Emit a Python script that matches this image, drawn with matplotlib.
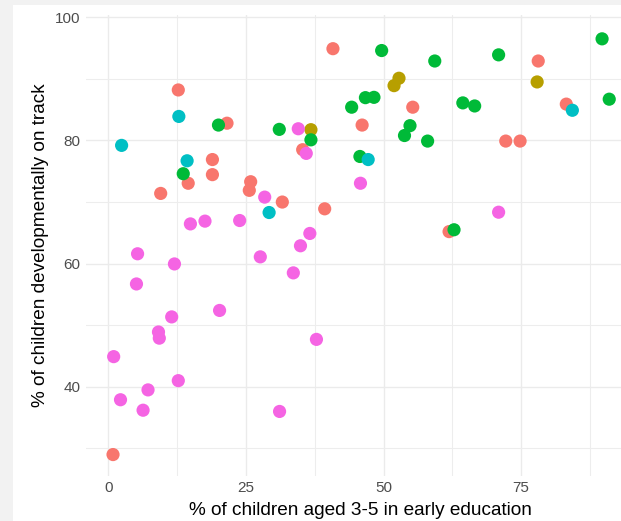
import matplotlib.pyplot as plt
from matplotlib.patches import Rectangle
from matplotlib.ticker import MultipleLocator

plt.rcParams['font.family'] = ['Liberation Sans', 'DejaVu Sans']

# values, one list pair per group
red_x = [40.8, 12.7, 21.55, 35.3, 18.9, 18.9, 14.5, 9.5, 25.85, 25.6, 31.6, 39.3,
         78.1, 55.3, 83.2, 46.1, 72.2, 74.8, 61.9, 0.84]
red_y = [94.9, 88.2, 82.8, 78.5, 76.9, 74.45, 73.05, 71.4, 73.3, 71.9, 70.0, 68.9,
         92.9, 85.4, 85.9, 82.5, 79.9, 79.9, 65.2, 29.0]

olive_x = [36.8, 52.8, 51.9, 77.9]
olive_y = [81.75, 90.1, 88.9, 89.5]

green_x = [20.0, 31.05, 36.8, 44.2, 13.6, 49.65, 59.3, 70.9, 89.7, 46.7, 48.25,
           64.4, 66.55, 91.0, 54.8, 53.8, 58.0, 45.7, 62.8]
green_y = [82.5, 81.8, 80.1, 85.4, 74.6, 94.6, 92.9, 93.9, 96.5, 86.95, 87.0,
           86.1, 85.6, 86.7, 82.4, 80.8, 79.9, 77.4, 65.5]

teal_x = [12.8, 2.4, 14.3, 29.2, 84.3, 47.2]
teal_y = [83.9, 79.2, 76.7, 68.3, 84.9, 76.9]

pink_x = [34.5, 35.95, 28.4, 14.9, 17.55, 23.85, 36.6, 34.9, 5.3, 12.0, 27.6, 33.6,
          5.1, 20.2, 11.5, 9.1, 9.25, 37.8, 0.96, 12.7, 7.2, 2.2, 6.3, 31.1, 45.8, 70.9]
pink_y = [81.9, 77.9, 70.8, 66.45, 66.9, 67.0, 64.9, 62.9, 61.6, 59.95, 61.1, 58.5,
          56.7, 52.4, 51.35, 48.9, 47.9, 47.7, 44.9, 41.0, 39.5, 37.9, 36.2, 36.0, 73.05, 68.35]

groups = [
    (red_x, red_y, "#F8766D"),
    (olive_x, olive_y, "#B79F00"),
    (green_x, green_y, "#00BA38"),
    (teal_x, teal_y, "#00BFC4"),
    (pink_x, pink_y, "#F564E3"),
]

fig = plt.figure(figsize=(6.21, 5.21), dpi=100)
fig.patch.set_facecolor("#f2f2f2")
# white page area (the grey strip at top/left is part of the screenshot)
fig.patches.append(Rectangle((13 / 621, 0), 1, 1 - 5 / 521, transform=fig.transFigure,
                             facecolor="white", edgecolor="none", zorder=-5))

# the panel runs a little past the right edge of the screenshot
ax = fig.add_axes([86 / 621, 45.5 / 521, 548 / 621, 460.5 / 521])
ax.set_facecolor("white")

for xs, ys, c in groups:
    ax.scatter(xs, ys, s=90, color=c, edgecolors="none", zorder=3)

ax.set_xlim(-4.07, 95.5)
ax.set_ylim(25.6, 100.37)
ax.xaxis.set_major_locator(MultipleLocator(25))
ax.xaxis.set_minor_locator(MultipleLocator(12.5))
ax.yaxis.set_major_locator(MultipleLocator(20))
ax.yaxis.set_minor_locator(MultipleLocator(10))
ax.grid(True, which="major", color="#ebebeb", linewidth=1.0, zorder=0)
ax.grid(True, which="minor", color="#ededed", linewidth=0.8, zorder=0)
ax.set_axisbelow(True)
for sp in ax.spines.values():
    sp.set_visible(False)
ax.tick_params(which="both", length=0, labelsize=11, labelcolor="#4d4d4d", pad=4)

ax.set_xlabel("% of children aged 3-5 in early education", fontsize=13.7, color="black", labelpad=5)
ax.set_ylabel("% of children developmentally on track", fontsize=13.7, color="black", labelpad=4)

fig.savefig("out.png", dpi=100, facecolor=fig.get_facecolor())
